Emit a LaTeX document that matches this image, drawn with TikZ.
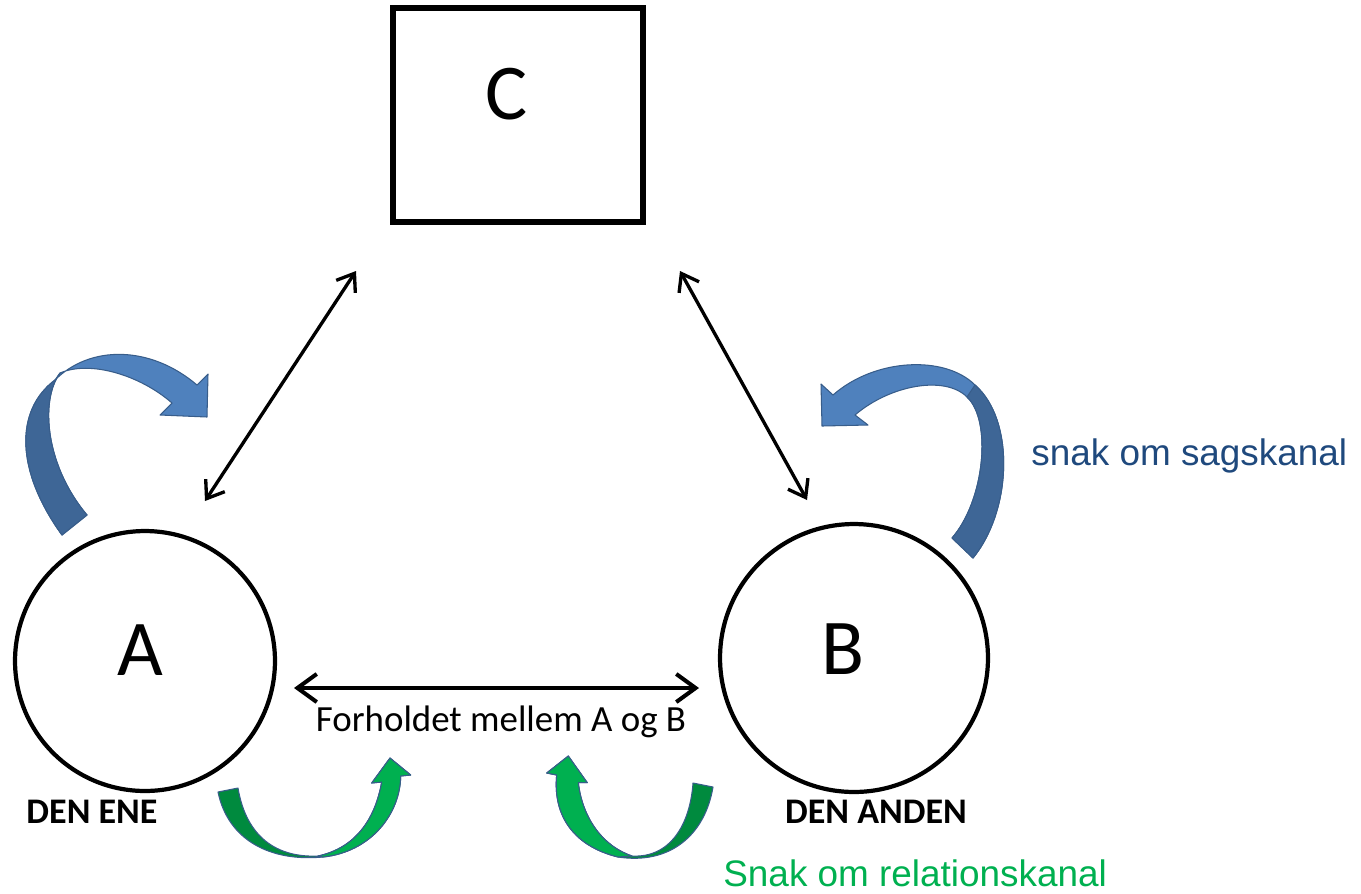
\documentclass[tikz,border=0pt]{standalone}
\usepackage{fontspec}
\setmainfont{Carlito}
\newfontfamily\arialf{Liberation Sans}
\usetikzlibrary{arrows.meta,shapes.geometric}
\definecolor{bluetxt}{HTML}{1F497D}
\definecolor{greentxt}{HTML}{00B050}
\definecolor{blueL}{HTML}{4F81BD}
\definecolor{blueD}{HTML}{3E6696}
\definecolor{blueE}{HTML}{385D8A}
\definecolor{greenL}{HTML}{00B050}
\definecolor{greenD}{HTML}{008A3E}
\begin{document}
\begin{tikzpicture}[x=0.02cm,y=-0.02cm,
  circ/.style={draw, ellipse, line width=2.4pt, inner sep=0pt},
  boxc/.style={draw, rectangle, line width=3.2pt, inner sep=0pt, minimum width=5cm, minimum height=4.28cm},
  bigtxt/.style={font=\fontsize{45}{50}\selectfont, inner sep=0pt},
  midtxt/.style={font=\fontsize{21}{24}\selectfont, inner sep=0pt},
  captxt/.style={font=\bfseries\fontsize{20.5}{24}\selectfont, inner sep=0pt},
  sidetxt/.style={font=\arialf\fontsize{21}{24}\selectfont, inner sep=0pt},
  harr/.style={line width=2.3pt, {Straight Barb[length=11pt,width=16pt]}-{Straight Barb[length=11pt,width=16pt]}},
  darr/.style={line width=1.9pt, {Straight Barb[length=9pt,width=13pt]}-{Straight Barb[length=9pt,width=13pt]}},
  bandedge/.style={draw=blueE, line width=0.6pt, line join=round}
]
\useasboundingbox (0,0) rectangle (1361,893);

% main shapes
\node[boxc] (C) at (518,115) {};
\node[bigtxt] (Ctext) at (507,94) {C};
\node[circ, minimum width=5.2cm, minimum height=5.2cm] (A) at (145,661) {};
\node[bigtxt] (Atext) at (140,650) {A};
\node[circ, minimum width=5.36cm, minimum height=5.36cm] (B) at (854,658) {};
\node[bigtxt] (Btext) at (843,649) {B};

% connectors
\coordinate (h1) at (294,688);
\coordinate (h2) at (699,688);
\draw[harr] (h1) -- (h2);
\coordinate (dl1) at (356,271);
\coordinate (dl2) at (205,501);
\draw[darr] (dl1) -- (dl2);
\coordinate (dr1) at (680,271);
\coordinate (dr2) at (807,500);
\draw[darr] (dr1) -- (dr2);

% labels
\node[midtxt] (rel) at (501,722) {Forholdet mellem A og B};
\node[captxt] (ene) at (92,812) {DEN ENE};
\node[captxt] (anden) at (876,812) {DEN ANDEN};
\node[sidetxt, text=bluetxt, anchor=base west] (sag) at (1031,465) {snak om sagskanal};
\node[sidetxt, text=greentxt, anchor=base west] (relk) at (723,886) {Snak om relationskanal};

% left blue curved arrow
\path[fill=blueL, bandedge] (62,535) .. controls (15,470) and (15,410) .. (55,380)
  .. controls (90,345) and (150,345) .. (197,385)
  -- (208,374) -- (207,417) -- (160,415) -- (172,403)
  .. controls (140,375) and (90,360) .. (60,373)
  .. controls (40,400) and (45,465) .. (87,515) -- cycle;
\path[fill=blueD, bandedge] (62,535) .. controls (15,470) and (15,410) .. (55,380)
  -- (60,373)
  .. controls (40,400) and (45,465) .. (87,515) -- cycle;

% right blue curved arrow
\path[fill=blueL, bandedge] (973,558) .. controls (1012,510) and (1015,420) .. (975,385)
  .. controls (945,355) and (875,358) .. (833,395)
  -- (821,384) -- (822,426) -- (868,425) -- (855,415)
  .. controls (890,385) and (945,375) .. (967,397)
  .. controls (992,420) and (985,500) .. (952,538) -- cycle;
\path[fill=blueD, bandedge] (973,558) .. controls (1012,510) and (1015,420) .. (975,385)
  -- (967,397)
  .. controls (992,420) and (985,500) .. (952,538) -- cycle;

% left green curved arrow
\path[fill=greenD, bandedge] (218,792) .. controls (228,840) and (270,862) .. (323,857)
  .. controls (370,852) and (400,815) .. (400.7,776)
  -- (410.7,775) -- (390,758) -- (371.7,783) -- (381.7,782)
  .. controls (375,820) and (355,848) .. (318,856)
  .. controls (270,858) and (245,830) .. (238,788) -- cycle;
\path[fill=greenL, bandedge] (323,857)
  .. controls (370,852) and (400,815) .. (400.7,776)
  -- (410.7,775) -- (390,758) -- (371.7,783) -- (381.7,782)
  .. controls (375,820) and (355,848) .. (318,856) -- cycle;

% right green curved arrow
\path[fill=greenD, bandedge] (713,787) .. controls (705,835) and (670,865) .. (618,857)
  .. controls (570,845) and (553,812) .. (556.7,775)
  -- (546.7,773) -- (568.3,756) -- (587.3,782.7) -- (578.3,782.7)
  .. controls (582,815) and (600,845) .. (632,856)
  .. controls (670,858) and (690,825) .. (693,783) -- cycle;
\path[fill=greenL, bandedge] (618,857)
  .. controls (570,845) and (553,812) .. (556.7,775)
  -- (546.7,773) -- (568.3,756) -- (587.3,782.7) -- (578.3,782.7)
  .. controls (582,815) and (600,845) .. (632,856) -- cycle;
\end{tikzpicture}
\end{document}
